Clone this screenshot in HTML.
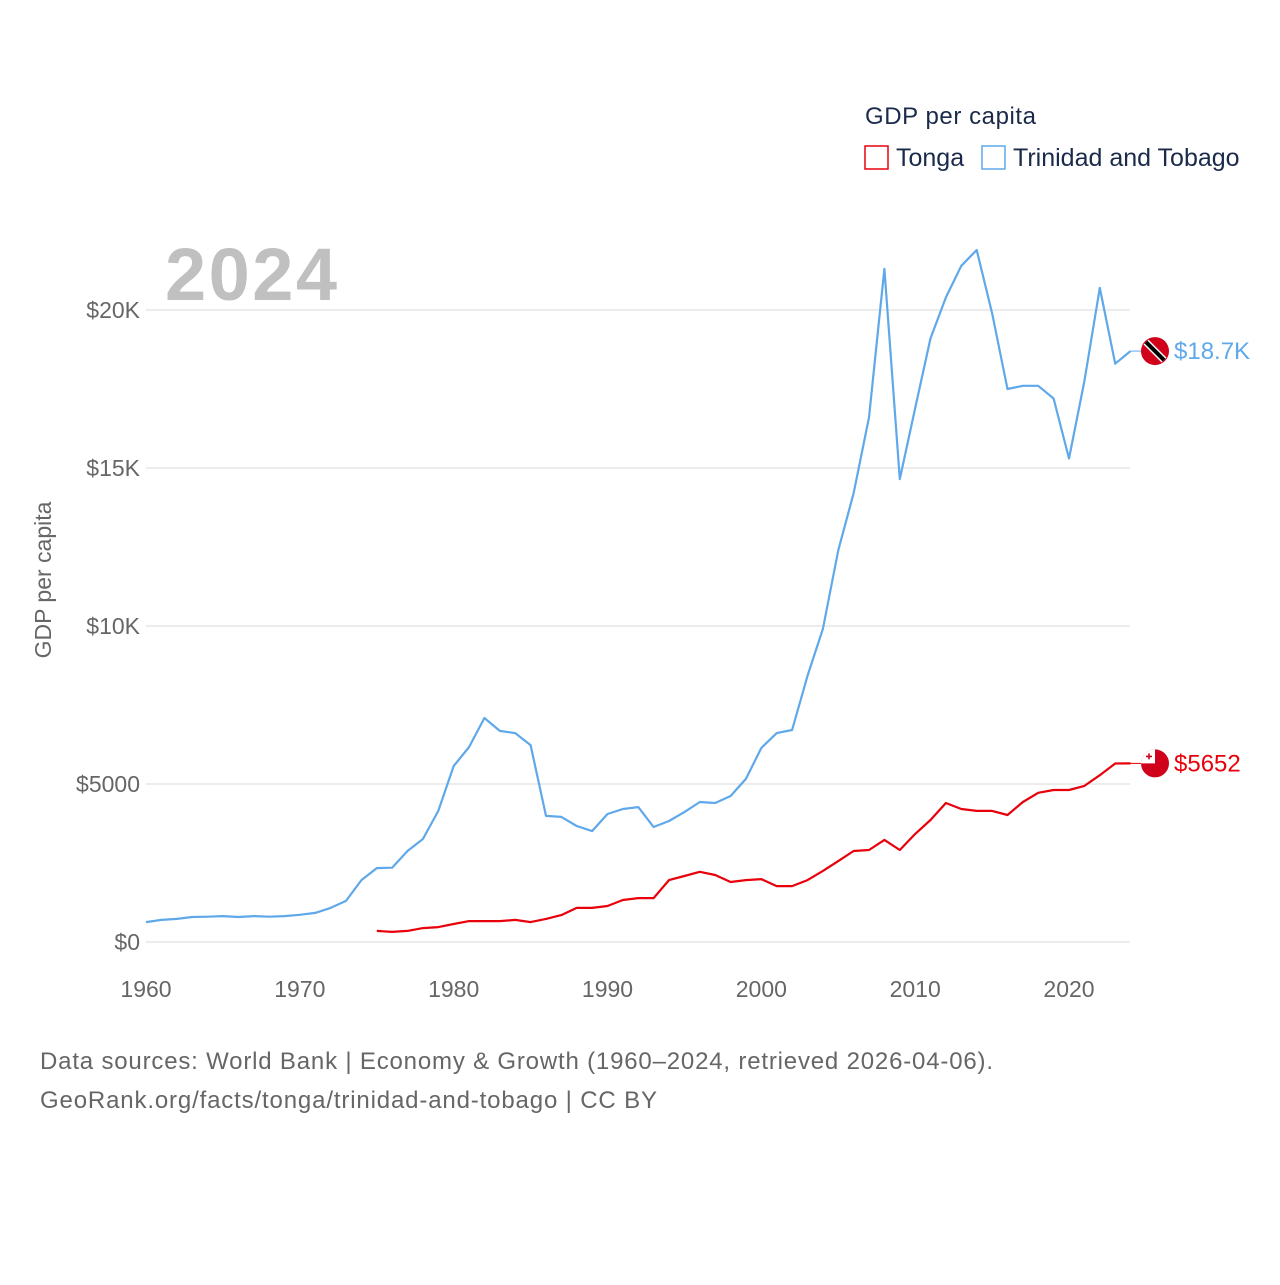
<!DOCTYPE html>
<html><head><meta charset="utf-8"><style>
body{margin:0;background:#fff;font-family:"Liberation Sans",sans-serif}
svg text{font-family:"Liberation Sans",sans-serif}
</style></head><body>
<svg width="1280" height="1280" viewBox="0 0 1280 1280" id="chart">
<text x="865" y="124" font-size="24" fill="#1a2a4a" textLength="171">GDP per capita</text>
<rect x="865" y="146" width="23" height="23" fill="none" stroke="#e8000b" stroke-width="1.5"/>
<text x="896" y="166" font-size="25" fill="#1a2a4a">Tonga</text>
<rect x="982" y="146" width="23" height="23" fill="none" stroke="#5fa8ea" stroke-width="1.5"/>
<text x="1013" y="166" font-size="25" fill="#1a2a4a">Trinidad and Tobago</text>
<text x="165" y="300" font-size="74" font-weight="bold" fill="#c0c0c0" textLength="172">2024</text>
<text transform="translate(51,580) rotate(-90)" text-anchor="middle" font-size="23" fill="#666">GDP per capita</text>
<g id="grid"></g><g id="xt"></g><g id="lines"></g>
<text x="40" y="1069" font-size="24" fill="#666" textLength="953">Data sources: World Bank | Economy &amp; Growth (1960–2024, retrieved 2026-04-06).</text>
<text x="40" y="1108" font-size="24" fill="#666" textLength="617">GeoRank.org/facts/tonga/trinidad-and-tobago | CC BY</text>
</svg>
<script>
const yTicks=[0,5000,10000,15000,20000];
const yTickLabels=["$0","$5000","$10K","$15K","$20K"];
const xTicks=[1960,1970,1980,1990,2000,2010,2020];
const ttYears=[];for(let y=1960;y<=2024;y++)ttYears.push(y);
const ttValues=[0.63,0.70,0.73,0.79,0.80,0.82,0.79,0.82,0.80,0.82,0.86,0.92,1.08,1.30,1.96,2.34,2.35,2.88,3.26,4.15,5.57,6.17,7.09,6.68,6.61,6.23,3.99,3.96,3.67,3.51,4.05,4.21,4.27,3.64,3.83,4.11,4.43,4.40,4.62,5.16,6.14,6.61,6.71,8.42,9.91,12.4,14.2,16.6,21.3,14.65,16.9,19.1,20.4,21.4,21.9,19.9,17.5,17.6,17.6,17.2,15.3,17.75,20.7,18.3,18.7].map(v=>v*1000);
const toYears=[];for(let y=1975;y<=2024;y++)toYears.push(y);
const toValues=[0.35,0.32,0.35,0.44,0.47,0.57,0.66,0.66,0.66,0.70,0.63,0.73,0.85,1.08,1.08,1.14,1.33,1.39,1.39,1.96,2.09,2.22,2.12,1.90,1.96,1.99,1.77,1.77,1.96,2.25,2.56,2.88,2.91,3.23,2.91,3.42,3.86,4.40,4.21,4.15,4.15,4.02,4.43,4.72,4.81,4.81,4.94,5.28,5.65,5.652].map(v=>v*1000);
const X=y=>146+(y-1960)*(923/60);
const Y=v=>942-v*(632/20000);
const NS="http://www.w3.org/2000/svg";
function mk(t,a,p){const e=document.createElementNS(NS,t);for(const k in a)e.setAttribute(k,a[k]);p.appendChild(e);return e;}
const grid=document.getElementById('grid');
yTicks.forEach((v,i)=>{
 const l=mk('line',{x1:146,x2:1130,y1:Y(v),y2:Y(v),stroke:'#e6e6e6','stroke-width':1.5},grid);
 
 
 const t=mk('text',{x:140,y:Y(v)+8,'text-anchor':'end','font-size':23,fill:'#666'},grid);
 t.textContent=yTickLabels[i];
 
 
});
const xt=document.getElementById('xt');
xTicks.forEach(y=>{
 const t=mk('text',{x:X(y),y:997,'text-anchor':'middle','font-size':23,fill:'#666'},xt);
 t.textContent=y;
 
 
});
const lines=document.getElementById('lines');
function series(years,vals,color,name,label){
 const d=years.map((y,i)=>(i?'L':'M')+X(y).toFixed(1)+','+Y(vals[i]).toFixed(1)).join(' ');
 const p=mk('path',{d:d,fill:'none',stroke:color,'stroke-width':2.2,'stroke-linejoin':'round'},lines);
 
 
 const lv=vals[vals.length-1],ly=Y(lv),lx=X(years[years.length-1]);
 const c=mk('line',{x1:lx,x2:1142,y1:ly,y2:ly,stroke:color,'stroke-width':1},lines);
 
 
 const f=mk('circle',{cx:1155,cy:ly,r:14,fill:'#d0021b'},lines);
 
 
 const t=mk('text',{x:1174,y:ly+8,'font-size':24,fill:color},lines);
 t.textContent=label;
 
 
 return ly;
}
const ty=series(ttYears,ttValues,'#5fa8ea','trinidad','$18.7K');
mk('line',{x1:1146,y1:ty-9,x2:1164,y2:ty+9,stroke:'#fff','stroke-width':7},lines);
mk('line',{x1:1146,y1:ty-9,x2:1164,y2:ty+9,stroke:'#000','stroke-width':4},lines);
const oy=series(toYears,toValues,'#e8000b','tonga','$5652');
mk('path',{d:`M1155 ${oy} H1141 A14 14 0 0 1 1155 ${oy-14} Z`,fill:'#fff'},lines);
mk('path',{d:`M1149 ${oy-10}v6M1146 ${oy-7}h6`,stroke:'#d0021b','stroke-width':1.6},lines);
</script>
</body></html>
